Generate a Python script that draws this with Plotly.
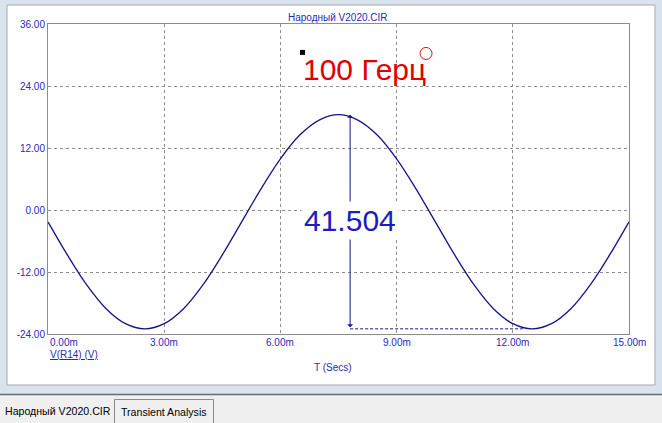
import plotly.graph_objects as go

# ---- data ----
t_ms = [0.0, 0.5, 1.0, 1.5, 2.0, 2.5, 3.0, 3.5, 4.0, 4.5, 5.0, 5.5, 6.0, 6.5, 7.0, 7.5,
        8.0, 8.5, 9.0, 9.5, 10.0, 10.5, 11.0, 11.5, 12.0, 12.5, 13.0, 13.5, 14.0, 14.5, 15.0]
v_r14 = [-2.3, -8.7, -14.5, -19.1, -22.0, -23.0, -22.0, -19.1, -14.5, -8.7, -2.3, 4.1, 9.9, 14.5,
         17.4, 18.45, 17.4, 14.5, 9.9, 4.1, -2.3, -8.7, -14.5, -19.1, -22.0, -23.0, -22.0, -19.1,
         -14.5, -8.7, -2.3]

x_ticks = [0, 3, 6, 9, 12, 15]
x_tick_labels = ["0.00m", "3.00m", "6.00m", "9.00m", "12.00m", "15.00m"]
y_ticks = [-24, -12, 0, 12, 24, 36]
y_tick_labels = ["-24.00", "-12.00", "0.00", "12.00", "24.00", "36.00"]

cursor_t = 7.8          # measurement cursor (ms)
peak_v = 18.45
trough_v = -23.0
trough_end_t = 12.26
measure_text = "41.504"
freq_text = "100 Герц"
freq_text_pos = (8.18, 27.2)
square_pos = (6.57, 30.5)
circle_pos = (9.76, 30.3)

title_text = "Народный V2020.CIR"
trace_name = "V(R14) (V)"
x_title = "T (Secs)"
tab_labels = ["Народный V2020.CIR", "Transient Analysis"]

# ---- layout constants ----
W, H = 662, 423
L, R, T, B = 48, 33, 24, 89
PW, PH = W - L - R, H - T - B


def xp(px):
    return (px - L) / PW


def yp(py):
    return (H - B - py) / PH


BLUE = "#2a2ab8"
NAVY = "#14148c"
FONT = "Liberation Sans, Arial, sans-serif"

fig = go.Figure()
fig.add_trace(go.Scatter(x=t_ms, y=v_r14, mode="lines", line=dict(color=NAVY, width=1.3, shape="spline"),
                         hoverinfo="skip", showlegend=False))
# dashed horizontal cursor line at trough
fig.add_trace(go.Scatter(x=[cursor_t, trough_end_t], y=[trough_v, trough_v], mode="lines",
                         line=dict(color=NAVY, width=1, dash="3px,2px"), showlegend=False, hoverinfo="skip"))
# small markers
fig.add_trace(go.Scatter(x=[square_pos[0]], y=[square_pos[1]], mode="markers",
                         marker=dict(symbol="square", size=5, color="black"), showlegend=False, hoverinfo="skip"))
fig.add_trace(go.Scatter(x=[circle_pos[0]], y=[circle_pos[1]], mode="markers",
                         marker=dict(symbol="circle-open", size=12, color="#e01010", line=dict(width=1)),
                         showlegend=False, hoverinfo="skip"))

shapes = [
    # white panel
    dict(type="rect", xref="paper", yref="paper", x0=xp(7), x1=xp(655), y0=yp(385), y1=yp(5),
         fillcolor="white", line=dict(color="#a8a8a8", width=1), layer="below"),
    # tab strip
    dict(type="rect", xref="paper", yref="paper", x0=xp(-2), x1=xp(664), y0=yp(425), y1=yp(394.5),
         fillcolor="#f0f0f0", line=dict(width=0), layer="below"),
    dict(type="line", xref="paper", yref="paper", x0=xp(0), x1=xp(662), y0=yp(394.5), y1=yp(394.5),
         line=dict(color="#6a6a6a", width=1.5), layer="below"),
    # second tab border
    dict(type="path", xref="paper", yref="paper",
         path=f"M {xp(114.5)},{yp(423)} L {xp(114.5)},{yp(399.5)} L {xp(213.5)},{yp(399.5)} L {xp(213.5)},{yp(423)}",
         line=dict(color="#8a8a8a", width=1), layer="below"),
]

annotations = []
# x tick labels
for i, (tv, tl) in enumerate(zip(x_ticks, x_tick_labels)):
    annotations.append(dict(x=tv, y=yp(342), xref="x", yref="paper", text=tl, showarrow=False,
                            xanchor="left" if i == 0 else "center", yanchor="middle",
                            font=dict(family=FONT, size=10, color=BLUE)))
# title
annotations.append(dict(x=xp(338), y=yp(17), xref="paper", yref="paper", text=title_text, showarrow=False,
                        xanchor="center", yanchor="middle", font=dict(family=FONT, size=10, color=BLUE)))
# trace label
annotations.append(dict(x=xp(48), y=yp(354), xref="paper", yref="paper", text=f"<u>{trace_name}</u>",
                        showarrow=False, xanchor="left", yanchor="middle",
                        font=dict(family=FONT, size=10, color=BLUE)))
# x axis title
annotations.append(dict(x=xp(333), y=yp(367), xref="paper", yref="paper", text=x_title, showarrow=False,
                        xanchor="center", yanchor="middle", font=dict(family=FONT, size=10, color=BLUE)))
# measurement arrow
annotations.append(dict(x=cursor_t, y=peak_v, ax=cursor_t, ay=trough_v, xref="x", yref="y", axref="x", ayref="y",
                        text="", showarrow=True, arrowhead=1, startarrowhead=1, arrowside="end+start",
                        arrowsize=1.0, startarrowsize=1.0,
                        arrowwidth=1, arrowcolor=NAVY, standoff=0, startstandoff=0))
annotations.append(dict(x=cursor_t, y=-2.0, xref="x", yref="y", text=measure_text, showarrow=False,
                        bgcolor="white", borderpad=2, xanchor="center", yanchor="middle",
                        font=dict(family=FONT, size=30, color="#1c1cc4")))
annotations.append(dict(x=freq_text_pos[0], y=freq_text_pos[1], xref="x", yref="y", text=freq_text,
                        showarrow=False, xanchor="center", yanchor="middle",
                        font=dict(family=FONT, size=30, color="#e00000")))
# tab labels
annotations.append(dict(x=xp(3), y=yp(411), xref="paper", yref="paper", text=tab_labels[0], showarrow=False,
                        xanchor="left", yanchor="middle", font=dict(family=FONT, size=10.6, color="black")))
annotations.append(dict(x=xp(164), y=yp(412), xref="paper", yref="paper", text=tab_labels[1], showarrow=False,
                        xanchor="center", yanchor="middle", font=dict(family=FONT, size=10.6, color="black")))

fig.update_layout(
    width=W, height=H, margin=dict(l=L, r=R, t=T, b=B),
    paper_bgcolor="#d9e3ee", plot_bgcolor="rgba(0,0,0,0)",
    shapes=shapes, annotations=annotations, showlegend=False,
    xaxis=dict(range=[0, 15], tickvals=x_ticks, showticklabels=False, showgrid=True,
               gridcolor="#8c8c8c", griddash="3px,3px", gridwidth=1, zeroline=False,
               showline=True, linecolor="#8c8c8c", linewidth=1, mirror=True, ticks=""),
    yaxis=dict(range=[-24, 36], tickvals=y_ticks, ticktext=y_tick_labels, showgrid=True,
               gridcolor="#8c8c8c", griddash="3px,3px", gridwidth=1, zeroline=False,
               showline=True, linecolor="#8c8c8c", linewidth=1, mirror=True, ticks="",
               tickfont=dict(family=FONT, size=10, color=BLUE)),
)

fig.write_html("out.html", config={"displayModeBar": False},
               post_script="document.body.style.margin='0';document.body.style.overflow='hidden';")
